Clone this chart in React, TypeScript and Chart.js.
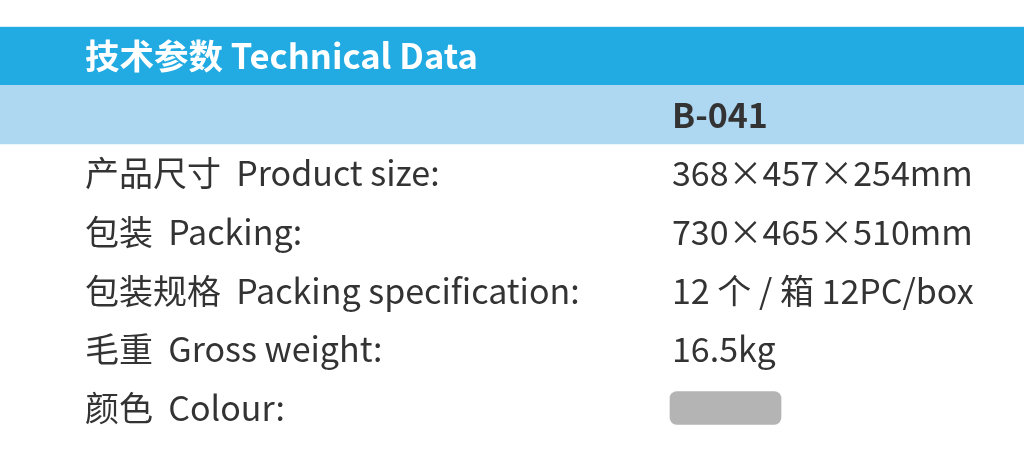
import React, { useEffect, useRef } from "react";
import { Chart, registerables } from "chart.js";

Chart.register(...registerables);

// ---- data ----
const titleText = "技术参数 Technical Data";
const modelName = "B-041";
const rowKeys = ["title", "model", "size", "packing", "spec", "weight", "colour"];
const specLabels = [
  "产品尺寸  Product size:",
  "包装  Packing:",
  "包装规格  Packing specification:",
  "毛重  Gross weight:",
  "颜色  Colour:",
];
const specValues = ["368×457×254mm", "730×465×510mm", "12 个 / 箱 12PC/box", "16.5kg", ""];
const bandRows = [1, 1, 0, 0, 0, 0, 0]; // rows carrying a full-width band
const colourSwatch = [0, 0, 0, 0, 0, 0, 1]; // row carrying the colour chip

// ---- layout / style (not data) ----
const W = 1024;
const H = 463;
const LABEL_X = 85;
const VALUE_X = 670;
const SWATCH_W = 111;
const FONT = '"Noto Sans CJK SC", "Noto Sans", sans-serif';
const TEXT = "#333333";
const BLUE = "#21abe2";
const LIGHT = "#aed7f2";
const GREY = "#b4b4b4";

export default function App() {
  const ref = useRef<HTMLCanvasElement | null>(null);

  useEffect(() => {
    document.body.style.margin = "0";
    const canvas = ref.current;
    if (!canvas) return;

    const textPlugin = {
      id: "tableText",
      afterDatasetsDraw(chart: any) {
        const ctx = chart.ctx as CanvasRenderingContext2D;
        const y = chart.scales.y;
        ctx.save();
        ctx.textBaseline = "middle";
        ctx.textAlign = "left";
        ctx.fillStyle = "#ffffff";
        ctx.font = `bold 34.5px ${FONT}`;
        ctx.fillText(titleText, LABEL_X, y.getPixelForValue(0));
        ctx.fillStyle = TEXT;
        ctx.font = `bold 34px ${FONT}`;
        ctx.fillText(modelName, VALUE_X + 2, y.getPixelForValue(1));
        ctx.font = `34px ${FONT}`;
        specLabels.forEach((lab, i) => {
          const py = y.getPixelForValue(i + 2);
          ctx.fillText(lab, LABEL_X, py);
          if (specValues[i]) ctx.fillText(specValues[i], VALUE_X + 2, py);
        });
        ctx.restore();
      },
    };

    const chart = new Chart(canvas, {
      type: "bar",
      data: {
        labels: rowKeys,
        datasets: [
          {
            data: bandRows.map((v) => (v ? W : null)),
            backgroundColor: [BLUE, LIGHT, BLUE, BLUE, BLUE, BLUE, BLUE],
            barPercentage: 1,
            categoryPercentage: 1,
            grouped: false,
            borderWidth: 0,
          } as any,
          {
            data: colourSwatch.map((v) => (v ? [VALUE_X, VALUE_X + SWATCH_W] : null)),
            backgroundColor: GREY,
            barThickness: 33,
            borderRadius: 7,
            borderSkipped: false,
            grouped: false,
            borderWidth: 0,
          } as any,
        ],
      },
      options: {
        indexAxis: "y",
        responsive: false,
        animation: false,
        layout: { padding: { top: 26.7, bottom: 25.7, left: 0, right: 0 } },
        plugins: { legend: { display: false }, tooltip: { enabled: false } },
        scales: {
          x: { type: "linear", min: 0, max: W, display: false },
          y: { type: "category", display: false, offset: true },
        },
      },
      plugins: [textPlugin],
    });
    return () => chart.destroy();
  }, []);

  return <canvas ref={ref} width={W} height={H} style={{ display: "block" }} />;
}
